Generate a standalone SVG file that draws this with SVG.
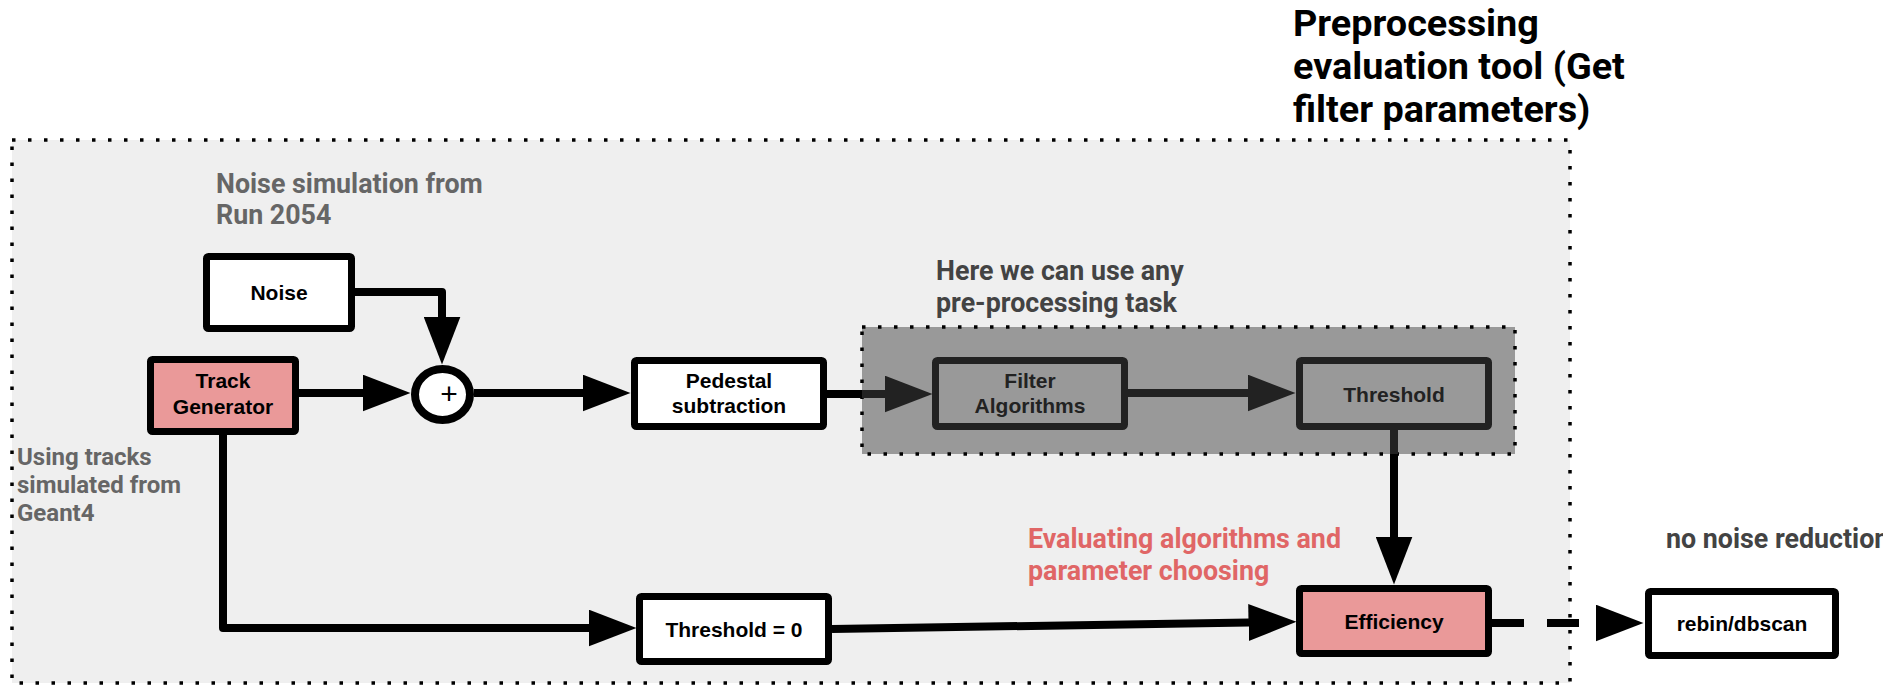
<svg xmlns="http://www.w3.org/2000/svg" width="1883" height="687" viewBox="0 0 1883 687">
<style>
.dotted{stroke:#000;stroke-width:3.5;stroke-dasharray:3.5 12.5}
.box{stroke:#000;stroke-width:7;fill:#fff}
.pink{fill:#ea9999}
.inbox{stroke:#222;stroke-width:7;fill:none}
.lbl{font-family:"Liberation Sans",Arial,sans-serif;font-weight:bold;font-size:21px;text-anchor:middle;fill:#000}
.lbl.dk{fill:#222}
.note{font-family:Roboto,"Liberation Sans",sans-serif;font-weight:bold;font-size:26.8px}
.conn{fill:none;stroke:#000;stroke-width:8;stroke-linejoin:round}
.conn.dk{stroke:#222}
</style>
<defs>
<marker id="ah" markerUnits="userSpaceOnUse" markerWidth="48" markerHeight="37" viewBox="0 0 48 37" refX="0.5" refY="18.5" orient="auto"><path d="M0,0 L48,18.5 L0,37 z" fill="#000"/></marker>
<marker id="ahd" markerUnits="userSpaceOnUse" markerWidth="48" markerHeight="37" viewBox="0 0 48 37" refX="0.5" refY="18.5" orient="auto"><path d="M0,0 L48,18.5 L0,37 z" fill="#222"/></marker>
</defs>
<rect width="1883" height="687" fill="#fff"/>
<g id="outer-group">
<rect x="12" y="140" width="1558" height="543" fill="#efefef" class="dotted"/>
</g>
<g id="title">
<text class="note" style="font-size:37.8px" fill="#000"><tspan x="1293" y="36">Preprocessing</tspan><tspan x="1293" y="79">evaluation tool (Get</tspan><tspan x="1293" y="122">filter parameters)</tspan></text>
</g>
<g id="noise-note"><text class="note" fill="#666"><tspan x="216" y="193">Noise simulation from</tspan><tspan x="216" y="224">Run 2054</tspan></text></g>
<g id="tracks-note"><text class="note" style="font-size:24px" fill="#666"><tspan x="17" y="465">Using tracks</tspan><tspan x="17" y="493">simulated from</tspan><tspan x="17" y="521">Geant4</tspan></text></g>
<g id="pre-note"><text class="note" fill="#434343"><tspan x="936" y="280">Here we can use any</tspan><tspan x="936" y="312">pre-processing task</tspan></text></g>
<g id="eval-note"><text class="note" fill="#e06666"><tspan x="1028" y="548">Evaluating algorithms and</tspan><tspan x="1028" y="580">parameter choosing</tspan></text></g>
<g id="nonoise-note"><text class="note" fill="#434343" x="1666" y="548">no noise reduction</text></g>
<g id="preproc-group">
<rect x="862" y="327" width="653" height="127" fill="#999" class="dotted"/>
</g>
<g id="connectors">
<path class="conn" d="M355,292 H442 V317" marker-end="url(#ah)"/>
<path class="conn" d="M299,393 H363" marker-end="url(#ah)"/>
<path class="conn" d="M474,393 H583" marker-end="url(#ah)"/>
<path class="conn" d="M827,394 H862"/>
<path class="conn dk" d="M862,394 H885" marker-end="url(#ahd)"/>
<path class="conn dk" d="M1128,393 H1248" marker-end="url(#ahd)"/>
<path class="conn dk" d="M1394,430 V454"/>
<path class="conn" d="M1394,454 V537" marker-end="url(#ah)"/>
<path class="conn" d="M223,435 V628 H589" marker-end="url(#ah)"/>
<path class="conn" d="M832,629 L1249,622.5" marker-end="url(#ah)"/>
<path class="conn" d="M1492,623 H1596" stroke-dasharray="32 23" marker-end="url(#ah)"/>
</g>
<g id="noise"><rect class="box" x="206.5" y="256.5" width="145" height="72" rx="2"/><text class="lbl" x="279" y="300">Noise</text></g>
<g id="track-generator"><rect class="box pink" x="150.5" y="359.5" width="145" height="72" rx="2"/><text class="lbl"><tspan x="223" y="388">Track</tspan><tspan x="223" y="414">Generator</tspan></text></g>
<g id="sum"><ellipse cx="442.5" cy="394.5" rx="27.5" ry="25.5" fill="#fff" stroke="#000" stroke-width="8"/><text x="449" y="404" font-family="Liberation Sans, Arial, sans-serif" font-size="30" text-anchor="middle">+</text></g>
<g id="pedestal"><rect class="box" x="634.5" y="360.5" width="189" height="66" rx="2"/><text class="lbl"><tspan x="729" y="388">Pedestal</tspan><tspan x="729" y="413">subtraction</tspan></text></g>
<g id="filter"><rect class="inbox" x="935.5" y="360.5" width="189" height="66" rx="2"/><text class="lbl dk"><tspan x="1030" y="388">Filter</tspan><tspan x="1030" y="413">Algorithms</tspan></text></g>
<g id="threshold"><rect class="inbox" x="1299.5" y="360.5" width="189" height="66" rx="2"/><text class="lbl dk" x="1394" y="402">Threshold</text></g>
<g id="threshold0"><rect class="box" x="639.5" y="596.5" width="189" height="65" rx="2"/><text class="lbl" x="734" y="637">Threshold = 0</text></g>
<g id="efficiency"><rect class="box pink" x="1299.5" y="588.5" width="189" height="65" rx="2"/><text class="lbl" x="1394" y="629">Efficiency</text></g>
<g id="rebin"><rect class="box" x="1648.5" y="591.5" width="187" height="64" rx="2"/><text class="lbl" x="1742" y="631">rebin/dbscan</text></g>
</svg>
